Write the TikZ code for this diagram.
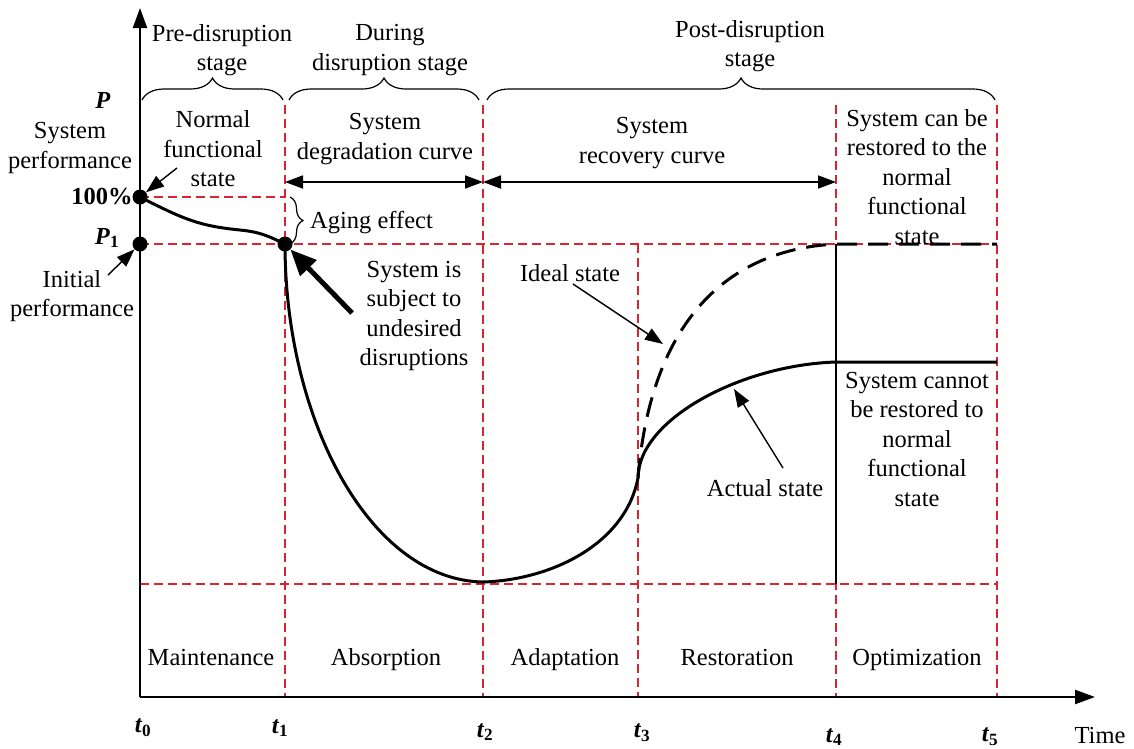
\documentclass[tikz,border=0pt]{standalone}
\usepackage{fontspec}
\setmainfont{Liberation Serif}
\usetikzlibrary{arrows.meta,decorations.pathreplacing}
\definecolor{gridred}{RGB}{215,38,45}

\begin{document}
\begin{tikzpicture}[x=1pt,y=-1pt,
  lbl/.style={inner sep=0pt, align=center, font=\rmfamily\fontsize{24.5}{29.5}\selectfont},
  grid/.style={gridred, line width=1.4pt, dash pattern=on 9pt off 5pt},
  axis/.style={line width=2.2pt, -{Triangle[length=20pt,width=14pt]}},
  curve/.style={line width=3pt},
  idealcurve/.style={line width=3pt, dash pattern=on 20pt off 11pt},
  ptr/.style={line width=1.4pt, -{Triangle[length=18pt,width=13pt]}},
  bigptr/.style={line width=5pt, -{Triangle[length=26pt,width=22pt]}},
  span/.style={line width=1.8pt, {Triangle[length=18pt,width=13pt]}-{Triangle[length=18pt,width=13pt]}},
  dot/.style={circle, fill=black, inner sep=0pt, minimum size=15pt},
  stagebrace/.style={decorate, decoration={brace, amplitude=22pt}, line width=1.2pt},
  agebrace/.style={decorate, decoration={brace, amplitude=13pt}, line width=1.2pt},
]
\useasboundingbox[fill=white] (0,0) rectangle (1134,748);

% key coordinates
\coordinate (O) at (140,697);
\coordinate (ytip) at (140,8);
\coordinate (xtip) at (1095,697);

% red reference grid
\draw[grid] (140,197) -- (285,197);
\draw[grid] (140,244) -- (997,244);
\draw[grid] (140,584) -- (997,584);
\draw[grid] (285,105) -- (285,697);
\draw[grid] (483,105) -- (483,697);
\draw[grid] (638,244) -- (638,697);
\draw[grid] (836,105) -- (836,697);
\draw[grid] (997,105) -- (997,697);

% axes
\draw[axis] (O) -- (ytip);
\draw[axis] (O) -- (xtip);

% stage braces
\draw[stagebrace] (142,100) -- (283,100);
\draw[stagebrace] (289,100) -- (479,100);
\draw[stagebrace] (487,100) -- (995,100);
\draw[agebrace] (290,197) -- (290,244);

% performance curves
\draw[curve] (140,197) .. controls (185,220) and (200,226) .. (240,230)
  .. controls (262,232) and (272,238) .. (285,244)
  .. controls (285,420) and (370,580) .. (483,582)
  .. controls (550,580) and (625,545) .. (638,478)
  .. controls (638,420) and (740,365) .. (836,362) -- (997,362);
\draw[idealcurve] (638,478) .. controls (650,330) and (720,250) .. (836,244) -- (997,244);
\draw[line width=1.5pt] (836,244) -- (836,584);

% points
\node[dot] (full) at (140,197) {};
\node[dot] (p1) at (140,244) {};
\node[dot] (hit) at (285,244) {};

% stage spans
\coordinate (s1) at (285,182);
\coordinate (s2) at (483,182);
\coordinate (s3) at (836,182);
\draw[span] (s1) -- (s2);
\draw[span] (s2) -- (s3);

% labels
\node[lbl] (pre) at (222,50) {Pre-disruption\\stage};
\node[lbl] (during) at (390,50) {During\\disruption stage};
\node[lbl] (post) at (750,46) {Post-disruption\\stage};
\node[lbl] (normal) at (213,149) {Normal\\functional\\state};
\node[lbl] (degr) at (385,139) {System\\degradation curve};
\node[lbl] (recov) at (652,143) {System\\recovery curve};
\node[lbl] (canres) at (917,177) {System can be\\restored to the\\normal\\functional\\state};
\node[lbl] (cannot) at (917,439) {System cannot\\be restored to\\normal\\functional\\state};
\node[lbl] (subject) at (414,316) {System is\\subject to\\undesired\\disruptions};
\node[lbl] (sysperf) at (70,148) {System\\performance};
\node[lbl] (initial) at (72,296) {Initial\\performance};
\node[lbl, anchor=west] (aging) at (310,223) {Aging effect};
\node[lbl] (ideal) at (570,273) {Ideal state};
\node[lbl] (actual) at (765,488) {Actual state};

\node[lbl] (pax) at (103,100) {\textbf{\textit{P}}};
\node[lbl] (pone) at (107,238) {\textbf{\textit{P}}\textsubscript{\textbf{1}}};
\node[lbl] (hundred) at (102,197) {\textbf{100\%}};

\node[lbl] (maint) at (211,657) {Maintenance};
\node[lbl] (absorb) at (386,660) {Absorption};
\node[lbl] (adapt) at (565,660) {Adaptation};
\node[lbl] (restore) at (737,657) {Restoration};
\node[lbl] (optim) at (917,660) {Optimization};

\node[lbl] (t0) at (143,728) {\textbf{\textit{t}}\textsubscript{\textbf{0}}};
\node[lbl] (t1) at (280,728) {\textbf{\textit{t}}\textsubscript{\textbf{1}}};
\node[lbl] (t2) at (485,732) {\textbf{\textit{t}}\textsubscript{\textbf{2}}};
\node[lbl] (t3) at (642,733) {\textbf{\textit{t}}\textsubscript{\textbf{3}}};
\node[lbl] (t4) at (834,737) {\textbf{\textit{t}}\textsubscript{\textbf{4}}};
\node[lbl] (t5) at (990,737) {\textbf{\textit{t}}\textsubscript{\textbf{5}}};
\node[lbl] (time) at (1100,735) {Time};

% pointers
\coordinate (perfstart) at (177,168);
\coordinate (initstart) at (108,275);
\coordinate (idealstart) at (573,284);
\coordinate (idealend) at (663,344);
\coordinate (actualstart) at (783,468);
\coordinate (actualend) at (734,389);
\coordinate (hitstart) at (352,313);
\draw[ptr] (perfstart) -- (full);
\draw[ptr] (initstart) -- (p1);
\draw[ptr] (idealstart) -- (idealend);
\draw[ptr] (actualstart) -- (actualend);
\draw[bigptr] (hitstart) -- (hit);
\end{tikzpicture}
\end{document}
